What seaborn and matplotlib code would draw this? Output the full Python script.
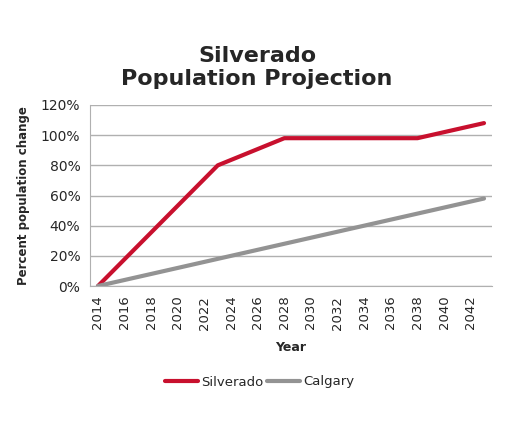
import matplotlib
matplotlib.use("Agg")
import matplotlib.pyplot as plt
import seaborn as sns
import pandas as pd

sns.set_style("white")
plt.rcParams['font.family'] = ['DejaVu Sans']

silverado_years = [2014, 2023, 2028, 2038, 2043]
silverado_vals = [0, 80, 98, 98, 108]
calgary_years = [2014, 2043]
calgary_vals = [0, 58]
xticks = list(range(2014, 2043, 2))
yticks = [0, 20, 40, 60, 80, 100, 120]

df = pd.concat([
    pd.DataFrame({"Year": silverado_years, "v": silverado_vals, "s": "Silverado"}),
    pd.DataFrame({"Year": calgary_years, "v": calgary_vals, "s": "Calgary"}),
])

fig = plt.figure(figsize=(5.09, 4.25), dpi=100)
ax = fig.add_axes([90/509, 1-286/425, 402/509, 181/425])
sns.lineplot(data=df, x="Year", y="v", hue="s", palette={"Silverado": "#c8102e", "Calgary": "#939393"},
             linewidth=3, ax=ax, legend=False)
ax.set_xlim(2013.4, 2043.6)
ax.set_ylim(0, 120)
ax.set_yticks(yticks)
ax.set_yticklabels([f"{v}%" for v in yticks], fontsize=10)
ax.set_xticks(xticks)
ax.set_xticklabels([str(x) for x in xticks], rotation=90, fontsize=9.5)
ax.yaxis.grid(True, color="#b0b0b0", linewidth=1)
for s in ["top", "right"]:
    ax.spines[s].set_visible(False)
ax.spines["left"].set_color("#b0b0b0")
ax.spines["bottom"].set_color("#b0b0b0")
ax.set_xlabel("Year", fontsize=9, fontweight="bold", labelpad=8)
ax.set_ylabel("Percent population change", fontsize=8.5, fontweight="bold", labelpad=8)
fig.text(0.505, 0.79, "Silverado\nPopulation Projection", ha="center", va="bottom",
         fontsize=16, fontweight="bold", linespacing=1.2)
from matplotlib.lines import Line2D
handles = [Line2D([], [], color="#c8102e", lw=3), Line2D([], [], color="#939393", lw=3)]
fig.legend(handles, ["Silverado", "Calgary"], loc="center", bbox_to_anchor=(0.51, 1-382/425),
           ncol=2, frameon=False, fontsize=9.5, handlelength=2.5, columnspacing=0.3, handletextpad=0.2)
fig.savefig("out.png", dpi=100)
